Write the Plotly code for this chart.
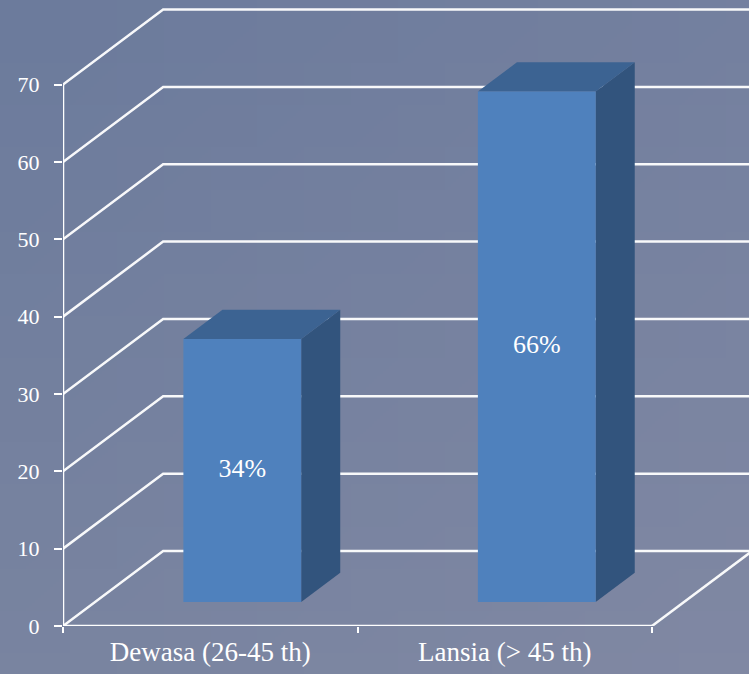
import base64
import struct
import zlib

import plotly.graph_objects as go

# Data
categories = ["Dewasa (26-45 th)", "Lansia (> 45 th)"]
values = [34, 66]
value_labels = ["34%", "66%"]
y_ticks = [0, 10, 20, 30, 40, 50, 60, 70]

# Oblique projection of the depth axis, expressed in data units
DEPTH_X = 0.34      # category units
DEPTH_Y = 9.7       # value units
BAR_WIDTH = 0.40
BAR_FRONT = 0.32    # fraction of depth where the bar front face sits
BAR_BACK = 0.71     # fraction of depth where the bar back face sits

FRONT_COLOR = "#4F81BD"
TOP_COLOR = "#3C6392"
SIDE_COLOR = "#32547D"
BG_COLOR = "#7481A0"
FONT = "Liberation Serif, Times New Roman, serif"


def gradient_png(w, h, tl, tr, bl, br):
    """Small RGB PNG blending four corner colours, used as a soft backdrop."""
    rows = b""
    for j in range(h):
        ty = j / (h - 1)
        rows += b"\x00"
        for i in range(w):
            tx = i / (w - 1)
            px = []
            for c in range(3):
                top = tl[c] * (1 - tx) + tr[c] * tx
                bot = bl[c] * (1 - tx) + br[c] * tx
                px.append(int(round(top * (1 - ty) + bot * ty)))
            rows += bytes(px)

    def chunk(tag, data):
        body = tag + data
        return struct.pack(">I", len(data)) + body + struct.pack(">I", zlib.crc32(body) & 0xFFFFFFFF)

    png = b"\x89PNG\r\n\x1a\n"
    png += chunk(b"IHDR", struct.pack(">IIBBBBB", w, h, 8, 2, 0, 0, 0))
    png += chunk(b"IDAT", zlib.compress(rows))
    png += chunk(b"IEND", b"")
    return "data:image/png;base64," + base64.b64encode(png).decode()


backdrop = gradient_png(16, 16, (108, 123, 156), (116, 128, 159),
                        (121, 132, 160), (128, 136, 163))

n = len(categories)
x_left, x_right = -0.5, n - 0.5

fig = go.Figure()
grid = dict(color="rgba(255,255,255,0.95)", width=2.5)


def line(xs, ys, style):
    fig.add_trace(go.Scatter(x=xs, y=ys, mode="lines", line=style,
                             hoverinfo="skip", showlegend=False))


def face(xs, ys, color):
    fig.add_trace(go.Scatter(x=xs, y=ys, mode="lines", fill="toself",
                             fillcolor=color, line=dict(width=0, color=color),
                             hoverinfo="skip", showlegend=False))


# Back wall gridlines, each joined to the front axis by a floor diagonal
for v in y_ticks:
    line([x_left, x_left + DEPTH_X, x_right + DEPTH_X],
         [v, v + DEPTH_Y, v + DEPTH_Y], grid)
# Right edge of the floor
line([x_right, x_right + DEPTH_X], [0, DEPTH_Y], grid)

# 3D columns: side, top and front faces
dx = (BAR_BACK - BAR_FRONT) * DEPTH_X
dy = (BAR_BACK - BAR_FRONT) * DEPTH_Y
label_x, label_y = [], []
for i, v in enumerate(values):
    x0 = i - BAR_WIDTH / 2 + BAR_FRONT * DEPTH_X
    x1 = x0 + BAR_WIDTH
    yb = BAR_FRONT * DEPTH_Y
    yt = yb + v
    face([x1, x1 + dx, x1 + dx, x1, x1], [yb, yb + dy, yt + dy, yt, yb], SIDE_COLOR)
    face([x0, x0 + dx, x1 + dx, x1, x0], [yt, yt + dy, yt + dy, yt, yt], TOP_COLOR)
    face([x0, x1, x1, x0, x0], [yb, yb, yt, yt, yb], FRONT_COLOR)
    label_x.append((x0 + x1) / 2)
    label_y.append(yb + v / 2)

fig.add_trace(go.Scatter(x=label_x, y=label_y, mode="text", text=value_labels,
                         textfont=dict(family=FONT, size=26, color="white"),
                         hoverinfo="skip", showlegend=False))

# Front axis lines
axis = dict(color="white", width=2.5)
line([x_left, x_left], [0, max(y_ticks)], axis)
line([x_left, x_right], [0, 0], axis)

fig.update_layout(
    width=749, height=674,
    margin=dict(l=63, r=0, t=0, b=48),
    paper_bgcolor=BG_COLOR,
    plot_bgcolor="rgba(0,0,0,0)",
    showlegend=False,
    images=[dict(source=backdrop, xref="paper", yref="paper",
                 x=-63 / 686, y=1, sizex=749 / 686, sizey=674 / 626,
                 xanchor="left", yanchor="top", sizing="stretch",
                 layer="below")],
    xaxis=dict(
        range=[x_left, x_left + 686 / 294.5],
        tickmode="array", tickvals=list(range(n)), ticktext=categories,
        ticks="", showgrid=False, zeroline=False, showline=False,
        tickfont=dict(family=FONT, size=27, color="white"),
        ticklabelstandoff=7,
        minor=dict(tickmode="array",
                   tickvals=[x_left + k for k in range(n + 1)],
                   ticks="outside", ticklen=6, tickwidth=2,
                   tickcolor="white", showgrid=False),
        fixedrange=True,
    ),
    yaxis=dict(
        range=[0, 626 / 7.734],
        tickmode="array", tickvals=y_ticks,
        ticks="outside", ticklen=8, tickwidth=2, tickcolor="white",
        showgrid=False, zeroline=False, showline=False,
        tickfont=dict(family=FONT, size=22, color="white"),
        ticklabelstandoff=10,
        fixedrange=True,
    ),
)

fig.write_html("out.html")
